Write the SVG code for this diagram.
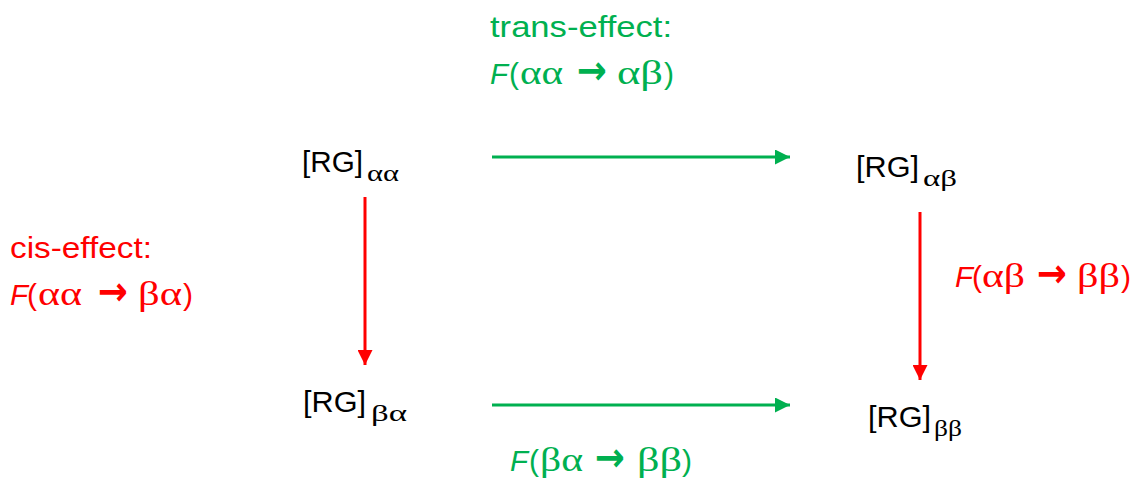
<svg xmlns="http://www.w3.org/2000/svg" width="1136" height="479" viewBox="0 0 1136 479">
<style>
text{font-family:"Liberation Sans",Arial,sans-serif;font-size:30px}
.g{font-family:"Liberation Serif","Times New Roman",serif;font-size:33px}
.sub{font-family:"Liberation Serif","Times New Roman",serif;font-size:23px}
.ar{font-family:"DejaVu Sans",sans-serif;font-weight:bold;font-size:40px}
.i{font-style:italic}
.green{fill:#00B050}
.red{fill:#FF0000}
.k{fill:#000}
</style>
<defs>
<marker id="ag" markerWidth="5" markerHeight="5" refX="5" refY="2.5" orient="auto" markerUnits="strokeWidth"><path d="M0,0 L5,2.5 L0,5 Z" fill="#00B050"/></marker>
<marker id="ar" markerWidth="5" markerHeight="5" refX="5" refY="2.5" orient="auto" markerUnits="strokeWidth"><path d="M0,0 L5,2.5 L0,5 Z" fill="#FF0000"/></marker>
</defs>
<rect width="1136" height="479" fill="#fff"/>
<g id="connectors">
<line x1="492" y1="157" x2="790" y2="157" stroke="#00B050" stroke-width="3" marker-end="url(#ag)"/>
<line x1="492" y1="405" x2="790" y2="405" stroke="#00B050" stroke-width="3" marker-end="url(#ag)"/>
<line x1="365" y1="197" x2="365" y2="365" stroke="#FF0000" stroke-width="3" marker-end="url(#ar)"/>
<line x1="920" y1="212" x2="920" y2="380" stroke="#FF0000" stroke-width="3" marker-end="url(#ar)"/>
</g>
<g id="node-aa" class="k">
<text x="302" y="172" textLength="61" lengthAdjust="spacingAndGlyphs">[RG]</text>
<text class="sub" x="367" y="181" textLength="32" lengthAdjust="spacingAndGlyphs">αα</text>
</g>
<g id="node-ab" class="k">
<text x="856" y="177" textLength="63" lengthAdjust="spacingAndGlyphs">[RG]</text>
<text class="sub" x="923" y="186" textLength="34" lengthAdjust="spacingAndGlyphs">αβ</text>
</g>
<g id="node-ba" class="k">
<text x="303" y="412" textLength="63" lengthAdjust="spacingAndGlyphs">[RG]</text>
<text class="sub" x="371" y="421" textLength="36" lengthAdjust="spacingAndGlyphs">βα</text>
</g>
<g id="node-bb" class="k">
<text x="868" y="427" textLength="63" lengthAdjust="spacingAndGlyphs">[RG]</text>
<text class="sub" x="934" y="436" textLength="28" lengthAdjust="spacingAndGlyphs">ββ</text>
</g>
<g id="label-trans" class="green">
<text x="490" y="37" textLength="182" lengthAdjust="spacingAndGlyphs">trans-effect:</text>
<text class="i" x="490" y="84" textLength="18" lengthAdjust="spacingAndGlyphs">F</text>
<text x="509" y="84">(</text>
<text class="g" x="520" y="84" textLength="43" lengthAdjust="spacingAndGlyphs">αα</text>
<text class="ar" x="577" y="84" textLength="30" lengthAdjust="spacingAndGlyphs">→</text>
<text class="g" x="617" y="84" textLength="46" lengthAdjust="spacingAndGlyphs">αβ</text>
<text x="664" y="84">)</text>
</g>
<g id="label-cis" class="red">
<text x="10" y="258" textLength="142" lengthAdjust="spacingAndGlyphs">cis-effect:</text>
<text class="i" x="10" y="305" textLength="18" lengthAdjust="spacingAndGlyphs">F</text>
<text x="27" y="305">(</text>
<text class="g" x="38" y="305" textLength="44" lengthAdjust="spacingAndGlyphs">αα</text>
<text class="ar" x="98" y="305" textLength="30" lengthAdjust="spacingAndGlyphs">→</text>
<text class="g" x="138" y="305" textLength="44" lengthAdjust="spacingAndGlyphs">βα</text>
<text x="183" y="305">)</text>
</g>
<g id="label-ab-bb" class="red">
<text class="i" x="955" y="287" textLength="18" lengthAdjust="spacingAndGlyphs">F</text>
<text x="972" y="287">(</text>
<text class="g" x="982" y="287" textLength="43" lengthAdjust="spacingAndGlyphs">αβ</text>
<text class="ar" x="1037" y="287" textLength="30" lengthAdjust="spacingAndGlyphs">→</text>
<text class="g" x="1077" y="287" textLength="43" lengthAdjust="spacingAndGlyphs">ββ</text>
<text x="1121" y="287">)</text>
</g>
<g id="label-ba-bb" class="green">
<text class="i" x="510" y="471" textLength="18" lengthAdjust="spacingAndGlyphs">F</text>
<text x="529" y="471">(</text>
<text class="g" x="540" y="471" textLength="43" lengthAdjust="spacingAndGlyphs">βα</text>
<text class="ar" x="595" y="471" textLength="30" lengthAdjust="spacingAndGlyphs">→</text>
<text class="g" x="637" y="471" textLength="45" lengthAdjust="spacingAndGlyphs">ββ</text>
<text x="682" y="471">)</text>
</g>
</svg>
